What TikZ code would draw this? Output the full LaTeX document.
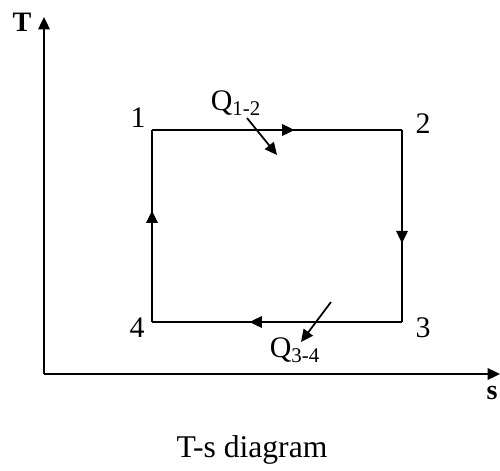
\documentclass[tikz,border=0pt]{standalone}
\usepackage{fontspec}
\setmainfont{Liberation Serif}
\usetikzlibrary{arrows.meta,decorations.markings}

\tikzset{
  mid arrow/.style={postaction={decorate},
    decoration={markings, mark=at position #1 with {\arrow{Triangle[length=7pt,width=6.5pt]}}}},
  heat/.style={-{Triangle[length=7pt,width=6.5pt]}, line width=1pt},
  lbl/.style={font=\fontsize{17}{19}\selectfont, inner sep=0pt}
}

\begin{document}
\begin{tikzpicture}[x=0.02cm, y=-0.02cm, line width=1.1pt]
  \useasboundingbox (0,0) rectangle (500,470);

  % Axes
  \coordinate (o) at (44,374);
  \coordinate (ytop) at (44,17);
  \coordinate (xend) at (500,374);
  \draw[-{Triangle[length=7pt,width=6.5pt]}] (o) -- (ytop);
  \draw[-{Triangle[length=7pt,width=6.5pt]}] (o) -- (xend);
  \node[lbl, font=\bfseries\fontsize{16}{18}\selectfont] (T) at (22,22) {T};
  \node[lbl, font=\bfseries\fontsize{16}{18}\selectfont] (s) at (492,393) {s};

  % State points
  \coordinate (c1) at (152,130);
  \coordinate (c2) at (402,130);
  \coordinate (c3) at (402,322);
  \coordinate (c4) at (152,322);

  % Cycle (with direction arrows)
  \draw[mid arrow=0.57] (c1) -- (c2);
  \draw[mid arrow=0.59] (c2) -- (c3);
  \draw[mid arrow=0.61] (c3) -- (c4);
  \draw[mid arrow=0.58] (c4) -- (c1);

  \node[lbl] (n1) at (138,118) {1};
  \node[lbl] (n2) at (423,124) {2};
  \node[lbl] (n3) at (423,328) {3};
  \node[lbl] (n4) at (137,328) {4};

  % Heat transfers
  \node[lbl] (q12) at (236,103) {Q\textsubscript{1-2}};
  \coordinate (q12a) at (247,118);
  \coordinate (q12b) at (277,155);
  \draw[heat] (q12a) -- (q12b);

  \node[lbl] (q34) at (295,350) {Q\textsubscript{3-4}};
  \coordinate (q34a) at (331,302);
  \coordinate (q34b) at (301,342);
  \draw[heat] (q34a) -- (q34b);

  % Caption
  \node[lbl, font=\fontsize{18}{20}\selectfont] (cap) at (252,450) {T-s diagram};
\end{tikzpicture}
\end{document}
